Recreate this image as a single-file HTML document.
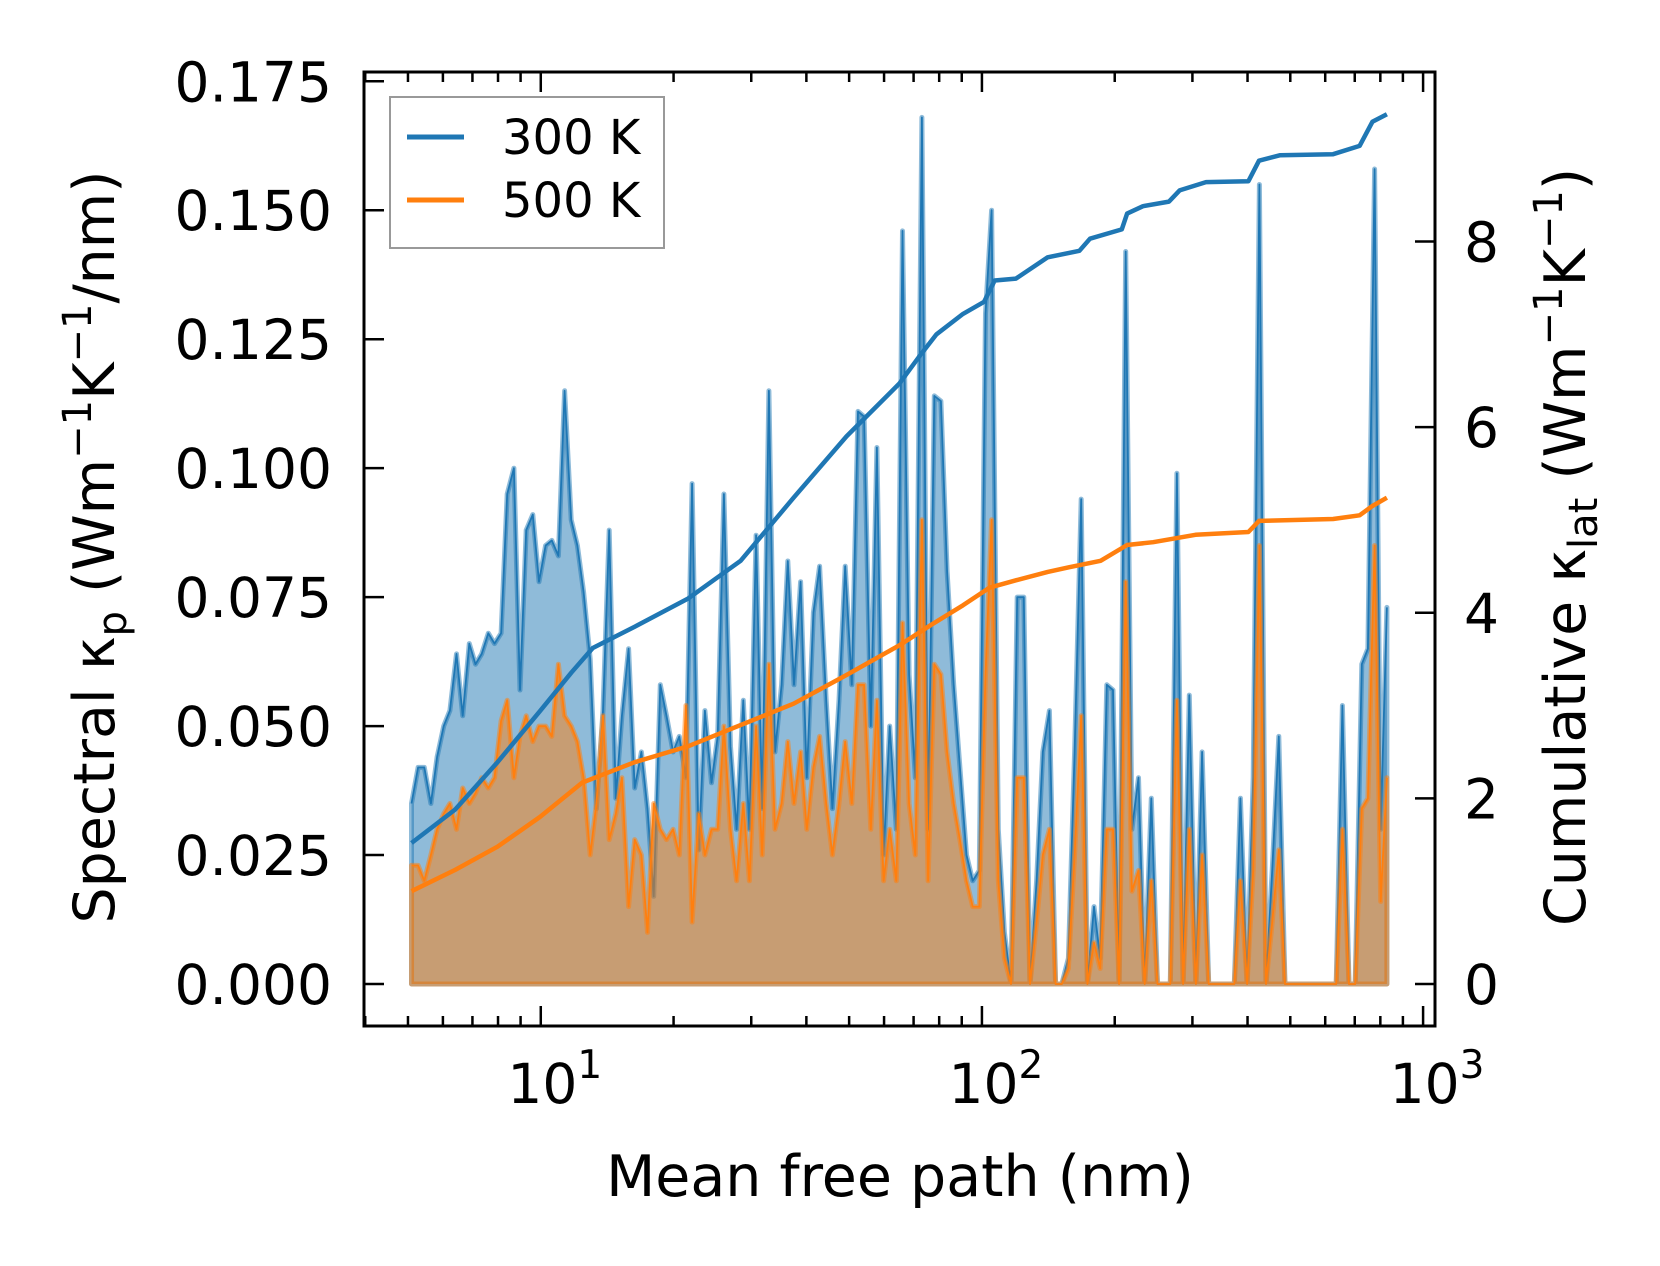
<!DOCTYPE html>
<html><head><meta charset="utf-8"><style>
html,body{margin:0;padding:0;background:#fff;}
svg{display:block;font-family:"DejaVu Sans","Liberation Sans",sans-serif;}
</style></head><body>
<svg id="chart" width="1660" height="1266" viewBox="0 0 1660 1266" xmlns="http://www.w3.org/2000/svg">
<rect width="1660" height="1266" fill="#fff"/>
<g id="plot"></g>
</svg>
<script>
// log10 of mean free path (nm)
const logMfp = [0.707,0.722,0.736,0.751,0.765,0.780,0.794,0.809,0.823,0.838,0.852,0.866,0.881,0.895,0.910,0.924,0.939,0.953,0.967,0.982,0.996,1.011,1.025,1.040,1.054,1.069,1.083,1.097,1.112,1.126,1.141,1.155,1.170,1.184,1.199,1.213,1.228,1.242,1.256,1.271,1.285,1.300,1.314,1.329,1.343,1.358,1.372,1.387,1.401,1.415,1.430,1.444,1.459,1.473,1.488,1.502,1.517,1.531,1.546,1.560,1.574,1.589,1.603,1.618,1.632,1.647,1.661,1.676,1.690,1.705,1.719,1.733,1.748,1.762,1.777,1.791,1.806,1.820,1.835,1.849,1.864,1.878,1.892,1.907,1.921,1.936,1.950,1.965,1.979,1.994,2.008,2.022,2.037,2.051,2.066,2.080,2.095,2.109,2.124,2.138,2.153,2.167,2.181,2.196,2.210,2.225,2.239,2.254,2.268,2.283,2.297,2.311,2.326,2.340,2.355,2.369,2.384,2.398,2.413,2.427,2.442,2.456,2.470,2.485,2.499,2.514,2.528,2.543,2.557,2.572,2.586,2.601,2.615,2.629,2.644,2.658,2.673,2.687,2.702,2.716,2.731,2.745,2.760,2.774,2.788,2.803,2.817,2.832,2.846,2.861,2.875,2.890,2.904,2.918];
const spec300 = [0.035,0.042,0.042,0.035,0.044,0.05,0.053,0.064,0.052,0.066,0.062,0.064,0.068,0.066,0.068,0.095,0.1,0.057,0.088,0.091,0.078,0.085,0.086,0.083,0.115,0.09,0.085,0.076,0.063,0.034,0.053,0.088,0.036,0.052,0.065,0.038,0.045,0.034,0.017,0.058,0.052,0.045,0.048,0.04,0.097,0.026,0.053,0.039,0.048,0.095,0.046,0.03,0.055,0.03,0.087,0.034,0.115,0.045,0.058,0.082,0.058,0.078,0.04,0.072,0.081,0.055,0.034,0.055,0.081,0.058,0.111,0.11,0.05,0.104,0.025,0.05,0.03,0.146,0.06,0.04,0.168,0.03,0.114,0.113,0.08,0.058,0.042,0.025,0.02,0.022,0.13,0.15,0.03,0.01,0,0.075,0.075,0,0.02,0.045,0.053,0,0,0.005,0.045,0.094,0,0.015,0.005,0.058,0.057,0,0.142,0.03,0.04,0,0.036,0,0,0,0.099,0,0.056,0,0.045,0,0,0,0,0,0.036,0,0.04,0.155,0,0.022,0.048,0,0,0,0,0,0,0,0,0,0.054,0,0,0.062,0.065,0.158,0.03,0.073];
const spec500 = [0.023,0.023,0.02,0.025,0.03,0.033,0.035,0.03,0.038,0.035,0.037,0.04,0.038,0.04,0.051,0.055,0.04,0.048,0.052,0.047,0.05,0.05,0.048,0.062,0.052,0.05,0.047,0.04,0.025,0.035,0.052,0.028,0.033,0.04,0.015,0.028,0.025,0.01,0.035,0.03,0.028,0.03,0.025,0.054,0.012,0.033,0.025,0.03,0.03,0.05,0.03,0.02,0.035,0.02,0.05,0.025,0.062,0.03,0.035,0.047,0.035,0.045,0.03,0.042,0.048,0.035,0.025,0.035,0.047,0.035,0.058,0.058,0.03,0.055,0.02,0.03,0.02,0.07,0.035,0.025,0.09,0.02,0.062,0.06,0.045,0.035,0.028,0.02,0.015,0.015,0.06,0.09,0.02,0.005,0,0.04,0.04,0,0.012,0.025,0.03,0,0,0.003,0.025,0.052,0,0.008,0.003,0.03,0.03,0,0.078,0.018,0.022,0,0.02,0,0,0,0.055,0,0.03,0,0.025,0,0,0,0,0,0.02,0,0.022,0.085,0,0.012,0.026,0,0,0,0,0,0,0,0,0,0.03,0,0,0.034,0.036,0.085,0.016,0.04];
const cumLog300 = [0.707,0.806,0.902,0.998,1.070,1.118,1.213,1.333,1.453,1.573,1.693,1.813,1.861,1.897,1.957,2.005,2.029,2.077,2.149,2.221,2.245,2.317,2.329,2.365,2.424,2.448,2.508,2.604,2.628,2.676,2.796,2.856,2.885,2.918];
const cum300 = [1.52,1.88,2.39,2.94,3.36,3.62,3.85,4.15,4.56,5.24,5.9,6.47,6.78,7.0,7.22,7.35,7.58,7.6,7.83,7.9,8.03,8.13,8.3,8.38,8.43,8.55,8.64,8.65,8.87,8.93,8.94,9.03,9.29,9.37];
const cumLog500 = [0.707,0.806,0.902,0.998,1.094,1.213,1.333,1.453,1.573,1.693,1.813,1.885,1.957,2.017,2.077,2.149,2.197,2.269,2.329,2.388,2.484,2.604,2.628,2.796,2.856,2.885,2.918];
const cum500 = [1.0,1.23,1.48,1.8,2.17,2.39,2.56,2.79,3.02,3.33,3.65,3.87,4.08,4.27,4.35,4.44,4.49,4.56,4.73,4.76,4.84,4.87,4.99,5.01,5.05,5.15,5.24];
const leftTicks = [0,0.025,0.05,0.075,0.1,0.125,0.15,0.175];
const leftTickLabels = ["0.000","0.025","0.050","0.075","0.100","0.125","0.150","0.175"];
const rightTicks = [0,2,4,6,8];
const xMajorExp = [1,2,3];

const NS="http://www.w3.org/2000/svg";
const L=364,R=1435,T=72,B=1026;
const xMin=0.5993,xMax=3.027,yMin=-0.00814,yMax=0.1768,rMin=-0.452,rMax=9.826;
const sx=v=>L+(v-xMin)/(xMax-xMin)*(R-L);
const sy=v=>B-(v-yMin)/(yMax-yMin)*(B-T);
const sr=v=>B-(v-rMin)/(rMax-rMin)*(B-T);
const g=document.getElementById('plot');
function mk(tag,attrs,parent){const e=document.createElementNS(NS,tag);for(const k in attrs)e.setAttribute(k,attrs[k]);(parent||g).appendChild(e);return e;}

function area(vals,color,name){
  let d='M'+sx(logMfp[0])+','+sy(0);
  vals.forEach((v,i)=>{d+=' L'+sx(logMfp[i]).toFixed(1)+','+sy(v).toFixed(1);});
  d+=' L'+sx(logMfp[logMfp.length-1])+','+sy(0)+' Z';
  const a=mk('path',{d:d,fill:color,'fill-opacity':0.5,stroke:color,'stroke-opacity':0.5,'stroke-width':5,'stroke-linejoin':'round'});
  
  
  let p='';
  vals.forEach((v,i)=>{p+=(i?' L':'M')+sx(logMfp[i]).toFixed(1)+','+sy(v).toFixed(1);});
  const l=mk('path',{d:p,fill:'none',stroke:color,'stroke-width':1.8,'stroke-linejoin':'round'});
  
  
}
area(spec300,'#1f77b4','spectral-300k');
area(spec500,'#ff7f0e','spectral-500k');

function cum(xs,vals,color,name){
  let p='';
  vals.forEach((v,i)=>{p+=(i?' L':'M')+sx(xs[i]).toFixed(1)+','+sr(v).toFixed(1);});
  const l=mk('path',{d:p,fill:'none',stroke:color,'stroke-width':4.5,'stroke-linejoin':'round'});
  
  
}
cum(cumLog300,cum300,'#1f77b4','cumulative-300k-line');
cum(cumLog500,cum500,'#ff7f0e','cumulative-500k-line');

const fr=mk('rect',{x:L,y:T,width:R-L,height:B-T,fill:'none',stroke:'#000','stroke-width':3});



for(let e=0;e<=3;e++){
  for(let m=1;m<10;m++){
    const lv=e+Math.log10(m);
    if(lv<xMin||lv>xMax)continue;
    const x=sx(lv),len=m===1?20:10;
    const t1=mk('line',{x1:x,y1:B,x2:x,y2:B-len,stroke:'#000','stroke-width':2.5});
    
    
    const t2=mk('line',{x1:x,y1:T,x2:x,y2:T+len,stroke:'#000','stroke-width':2.5});
    
    
  }
}
xMajorExp.forEach(e=>{
  const x=sx(e);
  const t=mk('text',{x:x+14,y:1103,'font-size':55,'text-anchor':'middle'});
  
  
  t.innerHTML='10<tspan font-size="39" dy="-25">'+e+'</tspan>';
});
leftTicks.forEach((v,i)=>{
  const y=sy(v);
  const t=mk('line',{x1:L,y1:y,x2:L+20,y2:y,stroke:'#000','stroke-width':2.5});
  
  
  const tx=mk('text',{x:332,y:y+20,'font-size':55,'text-anchor':'end'});
  
  
  tx.textContent=leftTickLabels[i];
});
rightTicks.forEach(v=>{
  const y=sr(v);
  const t=mk('line',{x1:R,y1:y,x2:R-20,y2:y,stroke:'#000','stroke-width':2.5});
  
  
  const tx=mk('text',{x:1464,y:y+20,'font-size':55,'text-anchor':'start'});
  
  
  tx.textContent=String(v);
});

const xt=mk('text',{x:900,y:1196,'font-size':57,'text-anchor':'middle'});


xt.textContent='Mean free path (nm)';
const yl=mk('text',{x:0,y:0,'font-size':57,'text-anchor':'middle',transform:'translate(114,547) rotate(-90)'});


yl.innerHTML='Spectral κ<tspan font-size="40" dy="12">p</tspan><tspan dy="-12"> (Wm</tspan><tspan font-size="40" dy="-23">−1</tspan><tspan dy="23">K</tspan><tspan font-size="40" dy="-23">−1</tspan><tspan dy="23">/nm)</tspan>';
const yr=mk('text',{x:0,y:0,'font-size':57,'text-anchor':'middle',transform:'translate(1585,547) rotate(-90)'});


yr.innerHTML='Cumulative κ<tspan font-size="40" dy="12">lat</tspan><tspan dy="-12"> (Wm</tspan><tspan font-size="40" dy="-23">−1</tspan><tspan dy="23">K</tspan><tspan font-size="40" dy="-23">−1</tspan><tspan dy="23">)</tspan>';

const lg=mk('g',{});


const lb=mk('rect',{x:390,y:97,width:274,height:151,fill:'#fff','fill-opacity':0.8,stroke:'#999','stroke-width':2},lg);


[['300 K','#1f77b4',137],['500 K','#ff7f0e',200]].forEach(([lab,c,y])=>{
  const l=mk('line',{x1:407,y1:y,x2:464,y2:y,stroke:c,'stroke-width':5},lg);
  
  
  const t=mk('text',{x:502,y:y+17,'font-size':48},lg);
  
  
  t.textContent=lab;
});
</script>
</body></html>
